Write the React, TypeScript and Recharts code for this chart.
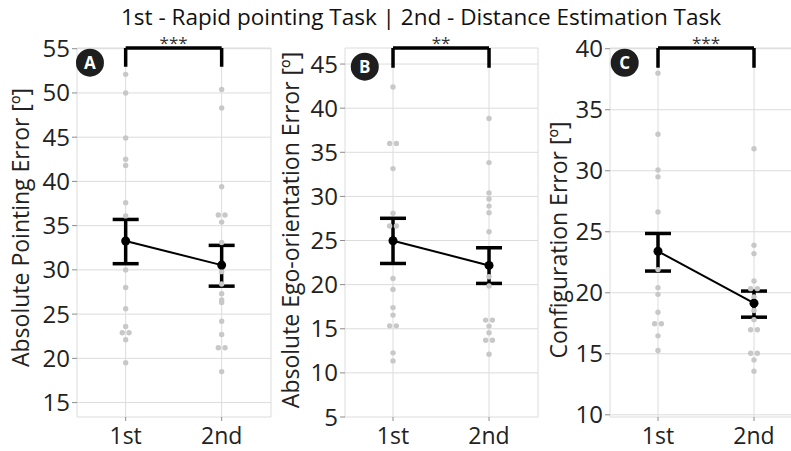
import React from 'react';
import {
  ComposedChart, Scatter, XAxis, YAxis, CartesianGrid, ErrorBar,
  ReferenceLine, ReferenceArea, ReferenceDot, Label,
} from 'recharts';

// ---- data ----
const categories = ['1st', '2nd'];
const titleText = '1st - Rapid pointing Task | 2nd - Distance Estimation Task';

const pointingFirst = [52.1, 50.0, 44.9, 42.5, 41.8, 37.6, 36.1, 30.0, 28.0, 25.6, 23.6, 22.9, 22.9, 22.1, 19.5];
const pointingSecond = [50.4, 48.3, 39.4, 36.2, 36.2, 35.4, 33.1, 29.8, 28.4, 27.3, 26.6, 26.3, 24.2, 22.7, 21.2, 21.2, 18.5];
const pointingMean = [33.26, 30.54];
const pointingLow = [30.7, 28.16];
const pointingHigh = [35.7, 32.77];
const pointingTicks = [15, 20, 25, 30, 35, 40, 45, 50, 55];

const egoFirst = [42.4, 36.0, 36.0, 33.15, 28.1, 26.65, 26.65, 20.7, 19.46, 17.4, 16.55, 15.33, 15.33, 12.27, 11.36];
const egoSecond = [38.83, 33.83, 30.4, 29.7, 28.9, 28.15, 26.0, 20.9, 19.84, 15.98, 15.98, 15.3, 14.54, 13.7, 13.7, 12.12];
const egoMean = [24.98, 22.18];
const egoLow = [22.4, 20.14];
const egoHigh = [27.52, 24.18];
const egoTicks = [5, 10, 15, 20, 25, 30, 35, 40, 45];

const configFirst = [38.0, 32.99, 30.06, 29.5, 26.63, 21.9, 20.42, 19.87, 18.4, 17.46, 17.46, 16.47, 15.27];
const configSecond = [31.8, 23.9, 23.2, 20.96, 20.34, 20.34, 19.65, 19.3, 18.55, 17.8, 16.97, 16.97, 15.05, 15.05, 14.5, 13.57];
const configMean = [23.4, 19.15];
const configLow = [21.78, 18.0];
const configHigh = [24.86, 20.14];
const configTicks = [10, 15, 20, 25, 30, 35, 40];

const FONT = '"Open Sans", "Noto Sans", sans-serif';

// dodge duplicated values side by side
function jitter(first: number[], second: number[]) {
  const out: { x: number; y: number }[] = [];
  [first, second].forEach((arr, ci) => {
    const counts: Record<string, number> = {};
    arr.forEach((v) => { counts[v] = (counts[v] || 0) + 1; });
    const seen: Record<string, number> = {};
    arr.forEach((v) => {
      const n = counts[v];
      const k = seen[v] || 0;
      seen[v] = k + 1;
      const off = n > 1 ? (k - (n - 1) / 2) * 0.07 : 0;
      out.push({ x: ci + 1 + off, y: v });
    });
  });
  return out;
}

function means(m: number[], lo: number[], hi: number[]) {
  return m.map((v, i) => ({ x: i + 1, y: v, err: [v - lo[i], hi[i] - v] }));
}

const GreyDot = (p: any) => <circle cx={p.cx} cy={p.cy} r={2.7} fill="#c8c8c8" />;
const BlackDot = (p: any) => <circle cx={p.cx} cy={p.cy} r={4.5} fill="#000" />;

const axisTitle = (text: string, dx: number, dy: number) => (props: any) => {
  const vb = props.viewBox || {};
  const cx = (vb.x ?? 0) + dx;
  const cy = (vb.y ?? 48) + (vb.height ?? 368) / 2 + dy;
  return (
    <text x={cx} y={cy} transform={`rotate(-90 ${cx} ${cy})`} textAnchor="middle"
      dominantBaseline="central" fontSize={23} fill="#222" fontFamily={FONT}>{text}</text>
  );
};

type PanelProps = {
  left: number; width: number; yWidth: number; labelDx: number; labelDy: number;
  xDomain: [number, number]; yDomain: [number, number]; ticks: number[];
  first: number[]; second: number[]; mean: number[]; low: number[]; high: number[];
  yLabel: string; badge: string; badgeX: number; badgeY: number;
  bracketEnd: number; stars: string;
};

function Panel(p: PanelProps) {
  const pts = jitter(p.first, p.second);
  const mdata = means(p.mean, p.low, p.high);
  const top = p.yDomain[1];
  return (
    <div style={{ position: 'absolute', left: p.left, top: 0 }}>
      <ComposedChart width={p.width} height={451} margin={{ top: 48, right: 1, bottom: 0, left: 0 }}>
        <CartesianGrid stroke="#dcdcdc" strokeWidth={1} />
        <ReferenceArea fill="none" stroke="#8c8c8c" strokeWidth={1.2} ifOverflow="visible" />
        <XAxis type="number" dataKey="x" domain={p.xDomain} ticks={[1, 2]} allowDataOverflow
          tickFormatter={(v: number) => categories[v - 1] ?? ''} height={34}
          axisLine={false} tickLine={{ stroke: '#8c8c8c' }} tickSize={4} tickMargin={7}
          tick={{ fontSize: 23, fill: '#222', fontFamily: FONT }} />
        <YAxis type="number" dataKey="y" domain={p.yDomain} ticks={p.ticks} allowDataOverflow
          width={p.yWidth} axisLine={false} tickLine={{ stroke: '#8c8c8c' }} tickSize={5} tickMargin={2}
          tick={{ fontSize: 24, fill: '#222', fontFamily: FONT }}>
          <Label content={axisTitle(p.yLabel, p.labelDx, p.labelDy)} />
        </YAxis>
        <Scatter data={pts} shape={GreyDot} isAnimationActive={false} />
        <Scatter data={mdata} shape={BlackDot} line={{ stroke: '#000', strokeWidth: 2 }}
          isAnimationActive={false}>
          <ErrorBar dataKey="err" direction="y" width={13} strokeWidth={3.5} stroke="#000" />
        </Scatter>
        <ReferenceLine segment={[{ x: 1, y: top }, { x: 2, y: top }]} stroke="#000" strokeWidth={3.5}
          ifOverflow="visible"
          label={{ value: p.stars, position: 'top', offset: -1, fontSize: 17, fill: '#333', fontFamily: FONT }} />
        <ReferenceLine segment={[{ x: 1, y: top }, { x: 1, y: p.bracketEnd }]} stroke="#000" strokeWidth={3.5}
          ifOverflow="visible" />
        <ReferenceLine segment={[{ x: 2, y: top }, { x: 2, y: p.bracketEnd }]} stroke="#000" strokeWidth={3.5}
          ifOverflow="visible" />
        <ReferenceDot x={p.badgeX} y={p.badgeY} r={14} fill="#1e1e1e" stroke="none" ifOverflow="visible"
          label={{ value: p.badge, position: 'center', fill: '#fff', fontSize: 17, fontWeight: 700, fontFamily: FONT }} />
      </ComposedChart>
    </div>
  );
}

export default function App() {
  return (
    <div style={{ position: 'fixed', left: 0, top: 0, width: 791, height: 451, overflow: 'hidden', background: '#fff' }}>
      <div style={{ position: 'absolute', left: 0, top: 2, width: 842, textAlign: 'center', fontSize: 22.5,
        fontFamily: FONT, color: '#111', lineHeight: '30px' }}>{titleText}</div>
      <Panel left={0} width={272} yWidth={77} labelDx={20} labelDy={-5} xDomain={[0.493, 2.514]} yDomain={[13.37, 55.08]}
        ticks={pointingTicks} first={pointingFirst} second={pointingSecond} mean={pointingMean}
        low={pointingLow} high={pointingHigh} yLabel="Absolute Pointing Error [º]" badge="A"
        badgeX={0.628} badgeY={53.42} bracketEnd={52.96} stars="***" />
      <Panel left={272} width={267} yWidth={73} labelDx={18} labelDy={-2.5} xDomain={[0.5, 2.51]} yDomain={[5, 46.82]}
        ticks={egoTicks} first={egoFirst} second={egoSecond} mean={egoMean}
        low={egoLow} high={egoHigh} yLabel="Absolute Ego-orientation Error [º]" badge="B"
        badgeX={0.706} badgeY={44.7} bracketEnd={44.58} stars="**" />
      <Panel left={540} width={263} yWidth={70} labelDx={18} labelDy={7.5} xDomain={[0.5, 2.5]} yDomain={[9.82, 40.06]}
        ticks={configTicks} first={configFirst} second={configSecond} mean={configMean}
        low={configLow} high={configHigh} yLabel="Configuration Error [º]" badge="C"
        badgeX={0.653} badgeY={38.85} bracketEnd={38.44} stars="***" />
    </div>
  );
}
